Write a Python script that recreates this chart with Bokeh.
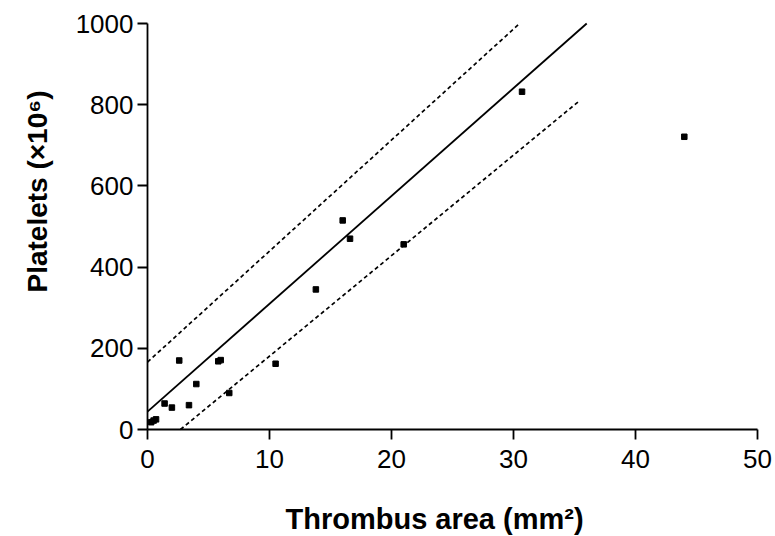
from bokeh.plotting import figure
from bokeh.models import Range1d, FixedTicker, Label
from bokeh.embed import file_html
from bokeh.resources import INLINE
import math

# Data
area = [0.3, 0.5, 0.7, 1.4, 2.0, 2.6, 3.4, 4.0, 5.8, 6.0, 6.7, 10.5, 13.8, 16.0, 16.6, 21.0, 30.7, 44.0]
platelets = [18, 22, 25, 64, 54, 170, 60, 112, 168, 171, 90, 162, 345, 515, 470, 456, 832, 721]

fit_x = [0, 36.0]
fit_y = [44, 1000]
upper_x = [0, 30.5]
upper_y = [166, 1000]
lower_x = [2.7, 35.3]
lower_y = [0, 807]

x_ticks = [0, 10, 20, 30, 40, 50]
y_ticks = [0, 200, 400, 600, 800, 1000]

x_title = "Thrombus area (mm²)"
y_title = "Platelets (×10⁶)"

# The plotting frame spans the whole canvas so that the axis titles and tick labels can sit
# inside it; the axes are pinned at the data origin and bounded to the data extent.
p = figure(width=775, height=536, output_backend="svg", toolbar_location=None,
           x_range=Range1d(-12.049, 51.475), y_range=Range1d(-263.5, 1056.65),
           min_border_left=0, min_border_right=0, min_border_top=0, min_border_bottom=0)
p.outline_line_color = None
p.xgrid.visible = False
p.ygrid.visible = False
p.background_fill_color = "white"
p.border_fill_color = "white"

for ax, ticks, bounds in ((p.xaxis[0], x_ticks, (0, 50)), (p.yaxis[0], y_ticks, (0, 1000))):
    ax.fixed_location = 0
    ax.bounds = bounds
    ax.ticker = FixedTicker(ticks=ticks)
    ax.minor_tick_line_color = None
    ax.major_tick_in = 0
    ax.major_tick_out = 10
    ax.axis_line_width = 1.8
    ax.major_tick_line_width = 1.8
    ax.axis_line_color = "black"
    ax.major_tick_line_color = "black"
    ax.major_label_text_font = "Liberation Sans"
    ax.major_label_text_font_size = "26px"
    ax.major_label_text_color = "black"

p.xaxis[0].major_label_standoff = 10
p.yaxis[0].major_label_standoff = 4

p.line(fit_x, fit_y, line_color="black", line_width=1.8)
p.line(upper_x, upper_y, line_color="black", line_width=1.7, line_dash="4 3")
p.line(lower_x, lower_y, line_color="black", line_width=1.7, line_dash="4 3")
p.scatter(area, platelets, marker="square", size=5.5, fill_color="black", line_color="black")

p.add_layout(Label(x=11.31, y=-219.2, text=x_title, text_font="Liberation Sans",
                   text_font_style="bold", text_font_size="29px", text_align="left",
                   text_baseline="alphabetic", text_color="black"))
p.add_layout(Label(x=-9.0, y=337.4, text=y_title, text_font="Liberation Sans",
                   text_font_style="bold", text_font_size="28px", text_align="left",
                   text_baseline="alphabetic", angle=math.pi / 2, text_color="black"))

open("out.html", "w").write(file_html(p, INLINE))
